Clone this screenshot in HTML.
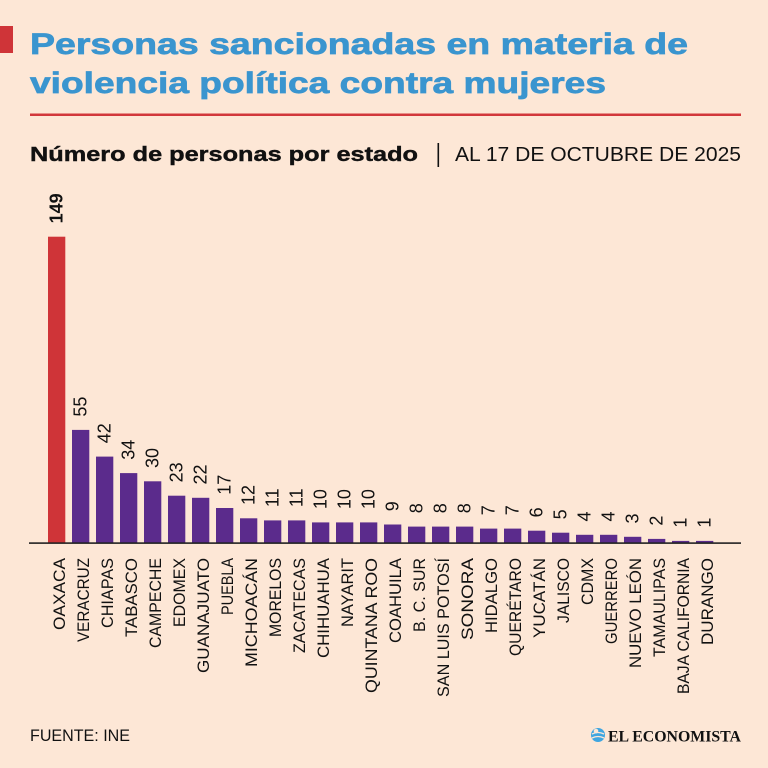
<!DOCTYPE html>
<html>
<head>
<meta charset="utf-8">
<style>
html,body{margin:0;padding:0;background:#fde7d6;}
svg{display:block;}
text{font-family:"Liberation Sans",sans-serif;}
</style>
</head>
<body>
<svg width="768" height="768" viewBox="0 0 768 768" xmlns="http://www.w3.org/2000/svg">
<rect x="0" y="0" width="768" height="768" fill="#fde7d6"/>
<!-- red marker -->
<rect x="0" y="26" width="13" height="27" fill="#cf3438"/>
<!-- title -->
<text x="30" y="54" font-size="30" font-weight="bold" fill="#3a95cf" stroke="#3a95cf" stroke-width="0.7" textLength="658" lengthAdjust="spacingAndGlyphs">Personas sancionadas en materia de</text>
<text x="30" y="93" font-size="30" font-weight="bold" fill="#3a95cf" stroke="#3a95cf" stroke-width="0.7" textLength="576" lengthAdjust="spacingAndGlyphs">violencia política contra mujeres</text>
<rect x="30" y="113.5" width="711" height="2.5" fill="#d2383b"/>
<!-- subtitle -->
<text x="30" y="161" font-size="20" font-weight="bold" fill="#111" stroke="#111" stroke-width="0.4" textLength="388" lengthAdjust="spacingAndGlyphs">Número de personas por estado</text>
<rect x="437.5" y="143" width="1.6" height="24" fill="#111"/>
<text x="455" y="161" font-size="20" fill="#111" textLength="286" lengthAdjust="spacingAndGlyphs">AL 17 DE OCTUBRE DE 2025</text>

<g id="bars">
<rect x="48" y="236.7" width="17.3" height="306.3" fill="#cf3438"/>
<rect x="72" y="429.9" width="17.3" height="113.1" fill="#5b2b8c"/>
<rect x="96" y="456.6" width="17.3" height="86.4" fill="#5b2b8c"/>
<rect x="120" y="473.1" width="17.3" height="69.9" fill="#5b2b8c"/>
<rect x="144" y="481.3" width="17.3" height="61.7" fill="#5b2b8c"/>
<rect x="168" y="495.7" width="17.3" height="47.3" fill="#5b2b8c"/>
<rect x="192" y="497.8" width="17.3" height="45.2" fill="#5b2b8c"/>
<rect x="216" y="508.0" width="17.3" height="35.0" fill="#5b2b8c"/>
<rect x="240" y="518.3" width="17.3" height="24.7" fill="#5b2b8c"/>
<rect x="264" y="520.4" width="17.3" height="22.6" fill="#5b2b8c"/>
<rect x="288" y="520.4" width="17.3" height="22.6" fill="#5b2b8c"/>
<rect x="312" y="522.4" width="17.3" height="20.6" fill="#5b2b8c"/>
<rect x="336" y="522.4" width="17.3" height="20.6" fill="#5b2b8c"/>
<rect x="360" y="522.4" width="17.3" height="20.6" fill="#5b2b8c"/>
<rect x="384" y="524.5" width="17.3" height="18.5" fill="#5b2b8c"/>
<rect x="408" y="526.6" width="17.3" height="16.4" fill="#5b2b8c"/>
<rect x="432" y="526.6" width="17.3" height="16.4" fill="#5b2b8c"/>
<rect x="456" y="526.6" width="17.3" height="16.4" fill="#5b2b8c"/>
<rect x="480" y="528.6" width="17.3" height="14.4" fill="#5b2b8c"/>
<rect x="504" y="528.6" width="17.3" height="14.4" fill="#5b2b8c"/>
<rect x="528" y="530.7" width="17.3" height="12.3" fill="#5b2b8c"/>
<rect x="552" y="532.7" width="17.3" height="10.3" fill="#5b2b8c"/>
<rect x="576" y="534.8" width="17.3" height="8.2" fill="#5b2b8c"/>
<rect x="600" y="534.8" width="17.3" height="8.2" fill="#5b2b8c"/>
<rect x="624" y="536.8" width="17.3" height="6.2" fill="#5b2b8c"/>
<rect x="648" y="538.9" width="17.3" height="4.1" fill="#5b2b8c"/>
<rect x="672" y="540.9" width="17.3" height="2.1" fill="#5b2b8c"/>
<rect x="696" y="540.9" width="17.3" height="2.1" fill="#5b2b8c"/>
</g>
<!-- axis -->
<rect x="29" y="542.3" width="712" height="1.6" fill="#222"/>

<!-- value labels -->
<g font-size="18" fill="#111">
<text transform="translate(62.5,223.4) rotate(-90)" font-weight="bold">149</text>
<text transform="translate(86.5,416.6) rotate(-90)">55</text>
<text transform="translate(110.5,443.3) rotate(-90)">42</text>
<text transform="translate(134.5,459.8) rotate(-90)">34</text>
<text transform="translate(158.5,468.0) rotate(-90)">30</text>
<text transform="translate(182.5,482.4) rotate(-90)">23</text>
<text transform="translate(206.5,484.5) rotate(-90)">22</text>
<text transform="translate(230.5,494.7) rotate(-90)">17</text>
<text transform="translate(254.5,505.0) rotate(-90)">12</text>
<text transform="translate(278.5,507.1) rotate(-90)">11</text>
<text transform="translate(302.5,507.1) rotate(-90)">11</text>
<text transform="translate(326.5,509.1) rotate(-90)">10</text>
<text transform="translate(350.5,509.1) rotate(-90)">10</text>
<text transform="translate(374.5,509.1) rotate(-90)">10</text>
<text transform="translate(398.5,511.2) rotate(-90)">9</text>
<text transform="translate(422.5,513.3) rotate(-90)">8</text>
<text transform="translate(446.5,513.3) rotate(-90)">8</text>
<text transform="translate(470.5,513.3) rotate(-90)">8</text>
<text transform="translate(494.5,515.3) rotate(-90)">7</text>
<text transform="translate(518.5,515.3) rotate(-90)">7</text>
<text transform="translate(542.5,517.4) rotate(-90)">6</text>
<text transform="translate(566.5,519.4) rotate(-90)">5</text>
<text transform="translate(590.5,521.5) rotate(-90)">4</text>
<text transform="translate(614.5,521.5) rotate(-90)">4</text>
<text transform="translate(638.5,523.5) rotate(-90)">3</text>
<text transform="translate(662.5,525.6) rotate(-90)">2</text>
<text transform="translate(686.5,527.6) rotate(-90)">1</text>
<text transform="translate(710.5,527.6) rotate(-90)">1</text>
</g>

<!-- category labels -->
<g font-size="17" fill="#111">
<text transform="translate(64.9,630) rotate(-90)" textLength="72" lengthAdjust="spacingAndGlyphs">OAXACA</text>
<text transform="translate(88.9,642) rotate(-90)" textLength="84" lengthAdjust="spacingAndGlyphs">VERACRUZ</text>
<text transform="translate(112.9,628) rotate(-90)" textLength="70" lengthAdjust="spacingAndGlyphs">CHIAPAS</text>
<text transform="translate(136.9,637) rotate(-90)" textLength="79" lengthAdjust="spacingAndGlyphs">TABASCO</text>
<text transform="translate(160.9,648) rotate(-90)" textLength="90" lengthAdjust="spacingAndGlyphs">CAMPECHE</text>
<text transform="translate(184.9,627) rotate(-90)" textLength="69" lengthAdjust="spacingAndGlyphs">EDOMEX</text>
<text transform="translate(208.9,673) rotate(-90)" textLength="115" lengthAdjust="spacingAndGlyphs">GUANAJUATO</text>
<text transform="translate(232.9,615) rotate(-90)" textLength="57" lengthAdjust="spacingAndGlyphs">PUEBLA</text>
<text transform="translate(256.9,667) rotate(-90)" textLength="109" lengthAdjust="spacingAndGlyphs">MICHOACÁN</text>
<text transform="translate(280.9,637) rotate(-90)" textLength="79" lengthAdjust="spacingAndGlyphs">MORELOS</text>
<text transform="translate(304.9,653) rotate(-90)" textLength="95" lengthAdjust="spacingAndGlyphs">ZACATECAS</text>
<text transform="translate(328.9,658) rotate(-90)" textLength="100" lengthAdjust="spacingAndGlyphs">CHIHUAHUA</text>
<text transform="translate(352.9,627) rotate(-90)" textLength="69" lengthAdjust="spacingAndGlyphs">NAYARIT</text>
<text transform="translate(376.9,693) rotate(-90)" textLength="135" lengthAdjust="spacingAndGlyphs">QUINTANA ROO</text>
<text transform="translate(400.9,643) rotate(-90)" textLength="85" lengthAdjust="spacingAndGlyphs">COAHUILA</text>
<text transform="translate(424.9,632) rotate(-90)" textLength="74" lengthAdjust="spacingAndGlyphs">B. C. SUR</text>
<text transform="translate(448.9,697) rotate(-90)" textLength="139" lengthAdjust="spacingAndGlyphs">SAN LUIS POTOSÍ</text>
<text transform="translate(472.9,640) rotate(-90)" textLength="82" lengthAdjust="spacingAndGlyphs">SONORA</text>
<text transform="translate(496.9,633) rotate(-90)" textLength="75" lengthAdjust="spacingAndGlyphs">HIDALGO</text>
<text transform="translate(520.9,656) rotate(-90)" textLength="98" lengthAdjust="spacingAndGlyphs">QUERÉTARO</text>
<text transform="translate(544.9,638) rotate(-90)" textLength="80" lengthAdjust="spacingAndGlyphs">YUCATÁN</text>
<text transform="translate(568.9,623) rotate(-90)" textLength="65" lengthAdjust="spacingAndGlyphs">JALISCO</text>
<text transform="translate(592.9,605) rotate(-90)" textLength="47" lengthAdjust="spacingAndGlyphs">CDMX</text>
<text transform="translate(616.9,644) rotate(-90)" textLength="86" lengthAdjust="spacingAndGlyphs">GUERRERO</text>
<text transform="translate(640.9,668) rotate(-90)" textLength="110" lengthAdjust="spacingAndGlyphs">NUEVO LEÓN</text>
<text transform="translate(664.9,657) rotate(-90)" textLength="99" lengthAdjust="spacingAndGlyphs">TAMAULIPAS</text>
<text transform="translate(688.9,694) rotate(-90)" textLength="136" lengthAdjust="spacingAndGlyphs">BAJA CALIFORNIA</text>
<text transform="translate(712.9,645) rotate(-90)" textLength="87" lengthAdjust="spacingAndGlyphs">DURANGO</text>
</g>

<!-- footer -->
<text x="30" y="741" font-size="17" fill="#111" textLength="100" lengthAdjust="spacingAndGlyphs">FUENTE: INE</text>
<g>
<circle cx="598" cy="735" r="7" fill="#3fa6e0"/>
<path d="M592 734 q6 -3 12 0" stroke="#fde7d6" stroke-width="1.3" fill="none"/>
<path d="M592 738 q6 -3 12 0" stroke="#fde7d6" stroke-width="1.3" fill="none"/>
<circle cx="596" cy="731" r="2.3" fill="#fde7d6"/>
</g>
<text x="608" y="741.5" font-size="16" font-weight="bold" fill="#111" textLength="133" lengthAdjust="spacingAndGlyphs" style="font-family:'Liberation Serif',serif">EL ECONOMISTA</text>
</svg>
</body>
</html>
